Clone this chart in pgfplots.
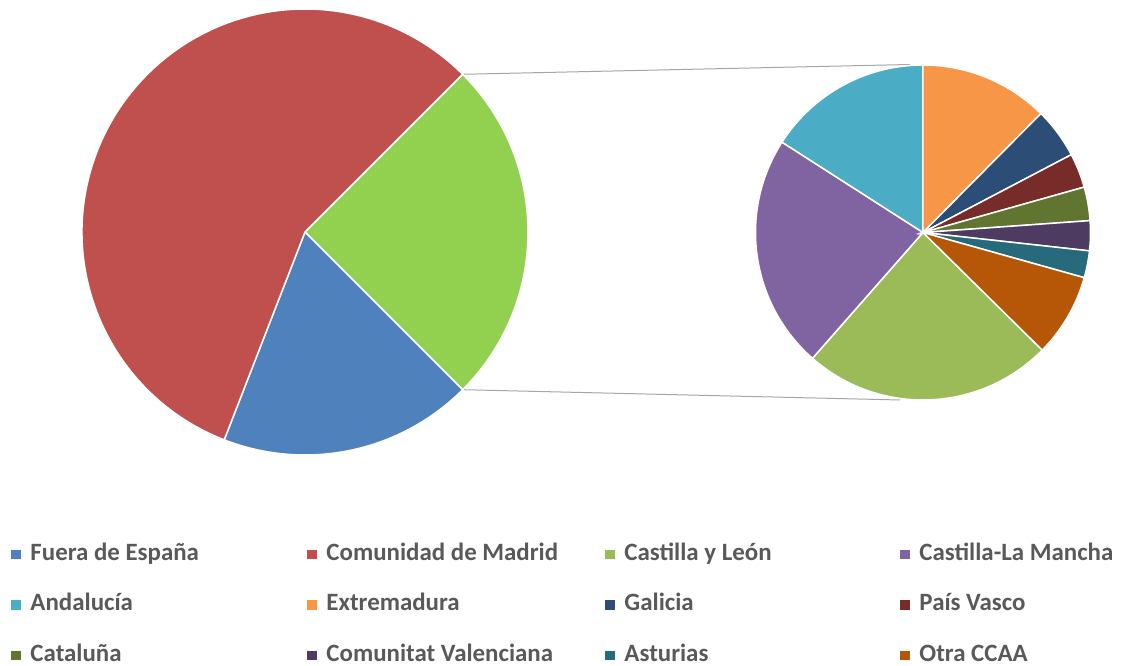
\documentclass[border=0pt]{standalone}
\usepackage{pgfplots}
\usepackage{pgfplotstable}
\pgfplotsset{compat=1.18}
\usepackage{fontspec}
\setmainfont{Carlito}
\definecolor{fuera}{HTML}{4F81BD}
\definecolor{madrid}{HTML}{C0504D}
\definecolor{otros}{HTML}{92D050}
\definecolor{cyl}{HTML}{9BBB59}
\definecolor{clm}{HTML}{8064A2}
\definecolor{and}{HTML}{4BACC6}
\definecolor{ext}{HTML}{F79646}
\definecolor{gal}{HTML}{2C4D75}
\definecolor{pv}{HTML}{772C2A}
\definecolor{cat}{HTML}{5F7530}
\definecolor{val}{HTML}{4D3B62}
\definecolor{ast}{HTML}{276A7C}
\definecolor{otra}{HTML}{B65708}
\definecolor{textgray}{HTML}{595959}
\definecolor{linegray}{HTML}{A6A6A6}

% primary pie (percent of total)
\pgfplotstableread[col sep=comma]{
region,value,col
Fuera de España,18.4,fuera
Comunidad de Madrid,56.6,madrid
}\maintable
% secondary pie (percent of total)
\pgfplotstableread[col sep=comma]{
region,value,col
Castilla y León,6.02,cyl
Castilla-La Mancha,5.65,clm
Andalucía,3.98,and
Extremadura,3.11,ext
Galicia,1.22,gal
País Vasco,0.83,pv
Cataluña,0.81,cat
Comunitat Valenciana,0.72,val
Asturias,0.65,ast
Otra CCAA,2.01,otra
}\sectable

\begin{document}
\begin{tikzpicture}
\begin{axis}[
  width=1121bp, height=666bp, scale only axis,
  xmin=0, xmax=1121, ymin=0, ymax=666,
  hide axis, clip=false,
  legend image code/.code={\fill[#1, draw=none] (0bp,-4.75bp) rectangle (9.5bp,4.75bp);},
  legend columns=4,
  legend style={draw=none, fill=none, inner sep=0pt, outer sep=0pt,
    at={(0.01026,0.0915)}, anchor=west,
    font=\bfseries\fontsize{25}{30}\selectfont, text=textgray,
    nodes={inner sep=0pt, text height=17bp, text depth=5.5bp},
    row sep=28bp,
    /tikz/every odd column/.style={column sep=9.5bp},
    /tikz/every even column/.style={column sep=0bp},
    cells={anchor=west}},
]
% connector lines
\addplot[linegray, line width=1bp, forget plot] coordinates {(462.7,591.7) (910,601.5)};
\addplot[linegray, line width=1bp, forget plot] coordinates {(462.7,276.3) (900,266)};

% sum of secondary values
\def\secsum{0}
\pgfplotstablegetrowsof{\sectable}\edef\nsec{\pgfplotsretval}
\pgfmathtruncatemacro\nlast{\nsec-1}
\pgfplotsforeachungrouped \i in {0,...,\nlast}{%
  \pgfplotstablegetelem{\i}{value}\of\sectable
  \pgfmathsetmacro\secsum{\secsum+\pgfplotsretval}%
}
\pgfmathsetmacro\total{18.4+56.6+\secsum}
% primary pie: "other" slice centred on 0 deg
\pgfmathsetmacro\half{\secsum/\total*180}
\pgfmathsetmacro\ang{\half}
\pgfmathsetmacro\endang{-\half}
\edef\temp{\noexpand\fill[otros, draw=white, line width=1.5bp] (axis cs:305,434) -- ++(\ang:223bp) arc[start angle=\ang, end angle=\endang, radius=223bp] -- cycle;}
\temp
\let\ang\endang
\pgfplotsforeachungrouped \i in {0,1}{%
  \pgfplotstablegetelem{\i}{value}\of\maintable \let\v\pgfplotsretval
  \pgfplotstablegetelem{\i}{col}\of\maintable \let\c\pgfplotsretval
  \pgfmathsetmacro\endang{\ang-\v/\total*360}%
  \edef\temp{\noexpand\fill[\c, draw=white, line width=1.5bp] (axis cs:305,434) -- ++(\ang:223bp) arc[start angle=\ang, end angle=\endang, radius=223bp] -- cycle;}%
  \temp
  \let\ang\endang
}
% secondary pie
\pgfmathsetmacro\ang{-44.6}
\pgfplotsforeachungrouped \i in {0,...,\nlast}{%
  \pgfplotstablegetelem{\i}{value}\of\sectable \let\v\pgfplotsretval
  \pgfplotstablegetelem{\i}{col}\of\sectable \let\c\pgfplotsretval
  \pgfmathsetmacro\endang{\ang-\v/\secsum*360}%
  \edef\temp{\noexpand\fill[\c, draw=white, line width=1.5bp] (axis cs:923,433.5) -- ++(\ang:167.5bp) arc[start angle=\ang, end angle=\endang, radius=167.5bp] -- cycle;}%
  \temp
  \let\ang\endang
}

\addlegendimage{fill=fuera}\addlegendentry{\makebox[277bp][l]{Fuera de España}}
\addlegendimage{fill=madrid}\addlegendentry{\makebox[279bp][l]{Comunidad de Madrid}}
\addlegendimage{fill=cyl}\addlegendentry{\makebox[276bp][l]{Castilla y León}}
\addlegendimage{fill=clm}\addlegendentry{Castilla-La Mancha}
\addlegendimage{fill=and}\addlegendentry{\makebox[277bp][l]{Andalucía}}
\addlegendimage{fill=ext}\addlegendentry{\makebox[279bp][l]{Extremadura}}
\addlegendimage{fill=gal}\addlegendentry{\makebox[276bp][l]{Galicia}}
\addlegendimage{fill=pv}\addlegendentry{País Vasco}
\addlegendimage{fill=cat}\addlegendentry{\makebox[277bp][l]{Cataluña}}
\addlegendimage{fill=val}\addlegendentry{\makebox[279bp][l]{Comunitat Valenciana}}
\addlegendimage{fill=ast}\addlegendentry{\makebox[276bp][l]{Asturias}}
\addlegendimage{fill=otra}\addlegendentry{Otra CCAA}
\end{axis}
\pgfresetboundingbox
\path[use as bounding box] (0,0) rectangle (1121bp,666bp);
\end{tikzpicture}
\end{document}
